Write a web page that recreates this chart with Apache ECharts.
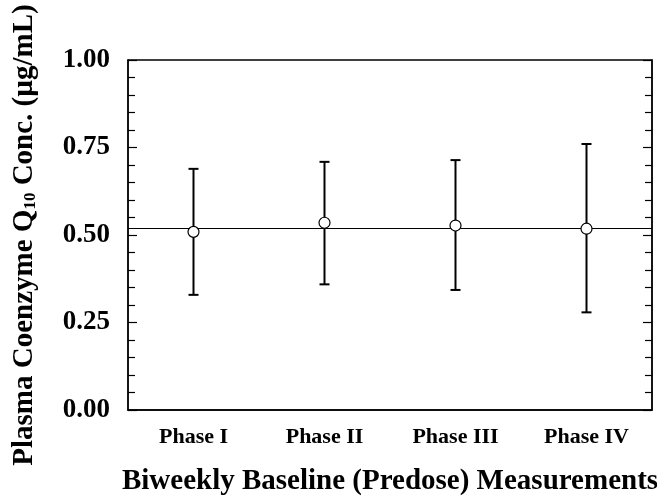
<!DOCTYPE html>
<html>
<head>
<meta charset="utf-8">
<script src="https://cdn.jsdelivr.net/npm/echarts@6/dist/echarts.min.js"></script>
<style>
  html, body { margin: 0; padding: 0; background: #fff; }
  #chart { width: 657px; height: 497px; }
</style>
</head>
<body>
<div id="chart"></div>
<script>
// data
var phases = ['Phase I', 'Phase II', 'Phase III', 'Phase IV'];
var means  = [0.509, 0.535, 0.527, 0.518];
var lows   = [0.329, 0.359, 0.343, 0.279];
var highs  = [0.689, 0.709, 0.714, 0.760];
var overallMean = 0.522;

var font = 'Liberation Serif';

var chart = echarts.init(document.getElementById('chart'));

var barData = [];
for (var i = 0; i < phases.length; i++) {
  barData.push([i, lows[i], highs[i]]);
}

// whiskers with caps
function renderBar(params, api) {
  var lo = api.coord([api.value(0), api.value(1)]);
  var hi = api.coord([api.value(0), api.value(2)]);
  var w = 5;
  var st = { stroke: '#000', lineWidth: 2 };
  return {
    type: 'group',
    children: [
      { type: 'line', shape: { x1: lo[0], y1: lo[1], x2: hi[0], y2: hi[1] }, style: st },
      { type: 'line', shape: { x1: lo[0] - w, y1: lo[1], x2: lo[0] + w, y2: lo[1] }, style: st },
      { type: 'line', shape: { x1: hi[0] - w, y1: hi[1], x2: hi[0] + w, y2: hi[1] }, style: st }
    ]
  };
}

option = {
  animation: false,
  backgroundColor: '#fff',
  grid: {
    left: 128, right: 5, top: 60, bottom: 87,
    outerBoundsMode: 'none',
    containLabel: false,
    show: true, borderColor: '#000', borderWidth: 1.3
  },
  xAxis: {
    type: 'category',
    data: phases,
    name: 'Biweekly Baseline (Predose) Measurements',
    nameLocation: 'middle',
    nameGap: 57,
    nameTextStyle: { fontFamily: font, fontWeight: 'bold', fontSize: 29, color: '#000' },
    axisLine: { lineStyle: { color: '#000', width: 1.5 } },
    axisTick: { inside: true, alignWithLabel: true, length: 8, lineStyle: { color: '#000', width: 1.2 } },
    axisLabel: { fontFamily: font, fontWeight: 'bold', fontSize: 22, color: '#000', margin: 16 },
    splitLine: { show: false }
  },
  yAxis: [
    {
      type: 'value',
      min: 0, max: 1, interval: 0.25,
      name: 'Plasma Coenzyme Q{sub|10} Conc. (µg/mL)',
      nameLocation: 'middle',
      nameRotate: 90,
      nameGap: 89,
      nameTextStyle: {
        fontFamily: font, fontWeight: 'bold', fontSize: 29, color: '#000',
        rich: {
          sub: { fontFamily: font, fontWeight: 'bold', fontSize: 17, color: '#000', verticalAlign: 'bottom', padding: [10, 0, 0, 0] }
        }
      },
      axisLine: { show: true, lineStyle: { color: '#000', width: 1.5 } },
      axisTick: { show: true, inside: true, length: 9, lineStyle: { color: '#000', width: 1.2 } },
      minorTick: { show: true, splitNumber: 5, length: 7, lineStyle: { color: '#000', width: 1.2 } },
      axisLabel: {
        fontFamily: font, fontWeight: 'bold', fontSize: 27, color: '#000', margin: 18,
        formatter: function (v) { return v.toFixed(2); }
      },
      splitLine: { show: false }
    },
    {
      type: 'value',
      position: 'right',
      min: 0, max: 1, interval: 0.25,
      axisLine: { show: true, lineStyle: { color: '#000', width: 1.5 } },
      axisTick: { show: true, inside: true, length: 9, lineStyle: { color: '#000', width: 1.2 } },
      minorTick: { show: true, splitNumber: 5, length: 7, lineStyle: { color: '#000', width: 1.2 } },
      axisLabel: { show: false },
      splitLine: { show: false }
    }
  ],
  series: [
    {
      type: 'custom',
      renderItem: renderBar,
      data: barData,
      encode: { x: 0, y: [1, 2] },
      z: 2,
      markLine: {
        silent: true,
        symbol: 'none',
        label: { show: false },
        lineStyle: { color: '#000', width: 1, type: 'solid' },
        data: [{ yAxis: overallMean }]
      }
    },
    {
      type: 'scatter',
      data: means,
      symbol: 'circle',
      symbolSize: 11,
      itemStyle: { color: '#fff', borderColor: '#000', borderWidth: 1.2, opacity: 1 },
      z: 5
    }
  ]
};

chart.setOption(option);
</script>
</body>
</html>
